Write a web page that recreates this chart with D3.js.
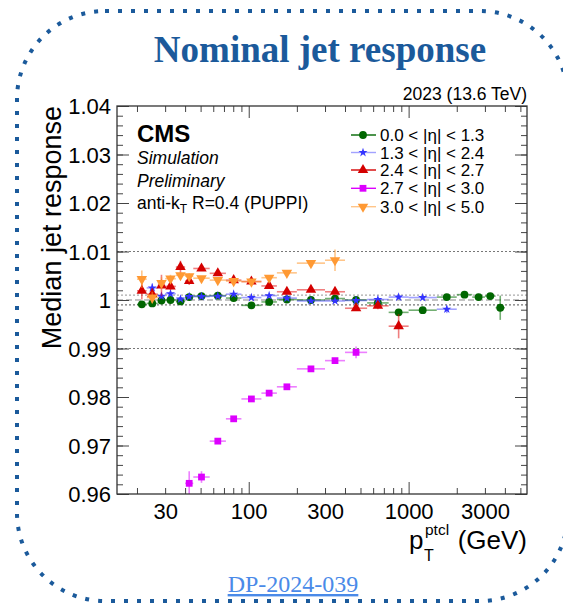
<!DOCTYPE html>
<html>
<head>
<meta charset="utf-8">
<script src="https://cdn.jsdelivr.net/npm/d3@7"></script>
<style>
  html, body { margin: 0; padding: 0; background: #fff; }
  svg { display: block; }
  text { font-family: "Liberation Sans", Arial, Helvetica, sans-serif; }
</style>
</head>
<body>
<svg id="chart" width="563" height="603"></svg>
<script>
// pT bin edges (GeV), shared by all eta regions
const ptEdges = [20, 23, 27, 30, 35, 40, 45, 57, 72, 90, 120, 150, 200, 300, 400, 550, 750, 1000, 1500, 2000, 2500, 3000, 3500, 4000];

const etaLabels = ["0.0 < |η| < 1.3", "1.3 < |η| < 2.4", "2.4 < |η| < 2.7", "2.7 < |η| < 3.0", "3.0 < |η| < 5.0"];
// index of the first pT bin filled for each eta region
const firstBin = [0, 1, 0, 5, 0];

// median response per pT bin, and its uncertainty
const resp00to13 = [0.9991, 0.9993, 0.9999, 1.0000, 0.9997, 1.0006, 1.0008, 1.0009, 1.0004, 0.9989, 0.9996, 1.0001,
                    1.0000, 1.0003, 1.0000, 0.9994, 0.99745, 0.9979, 1.0006, 1.0011, 1.0006, 1.0008, 0.9984];
const err00to13  = [0.0003, 0.0003, 0.0002, 0.0002, 0.0002, 0.0002, 0.0002, 0.0002, 0.0002, 0.0002, 0.0002, 0.0002,
                    0.0002, 0.0002, 0.0002, 0.0003, 0.0004, 0.0003, 0.0003, 0.0003, 0.0004, 0.0006, 0.0025];

const resp13to24 = [1.0025, 1.0008, 1.0013, 1.0002, 1.0007, 1.0007, 1.0008, 1.0012, 1.0005, 1.0009, 1.0004,
                    0.9998, 0.9998, 0.9999, 1.0001, 1.0006, 1.0005, 0.9981];
const err13to24  = [0.0009, 0.0005, 0.0005, 0.0004, 0.0003, 0.0003, 0.0003, 0.0003, 0.0003, 0.0003, 0.0003,
                    0.0003, 0.0003, 0.0003, 0.0003, 0.0004, 0.0004, 0.0008];

const resp24to27 = [1.0019, 1.0012, 1.0030, 1.0028, 1.0068, 1.0039, 1.0065, 1.0055, 1.0041, 1.0038, 1.0029,
                    1.0017, 1.0021, 1.0017, 0.9983, 0.9988, 0.9946];
const err24to27  = [0.0018, 0.0012, 0.0022, 0.0008, 0.0013, 0.0008, 0.0005, 0.0005, 0.0004, 0.0004, 0.0005,
                    0.0004, 0.0004, 0.0004, 0.0004, 0.0007, 0.0025];

const resp27to30 = [0.9622, 0.9635, 0.9709, 0.9755, 0.9796, 0.9808, 0.9821, 0.9858, 0.9875, 0.9892];
const err27to30  = [0.0025, 0.0012, 0.0005, 0.0005, 0.0003, 0.0003, 0.0003, 0.0003, 0.0005, 0.0012];

const resp30to50 = [1.0043, 1.0005, 1.0035, 1.0044, 1.0051, 1.0049, 1.0045, 1.0041, 1.0039, 1.0038, 1.0046,
                    1.0056, 1.0076, 1.0082];
const err30to50  = [0.0018, 0.0012, 0.0012, 0.0008, 0.0006, 0.0006, 0.0004, 0.0003, 0.0003, 0.0003, 0.0003,
                    0.0004, 0.0006, 0.0022];

const xTickLabels = [30, 100, 300, 1000, 3000];
const yTickLabels = [0.96, 0.97, 0.98, 0.99, 1.00, 1.01, 1.02, 1.03, 1.04];

const markerColors = ["#006600", "#3333ff", "#d40000", "#dd00ff", "#ff9933"];
const barColors    = ["rgba(0,110,0,0.55)", "rgba(70,70,255,0.5)", "rgba(225,0,0,0.5)", "rgba(220,0,255,0.5)", "rgba(255,150,40,0.55)"];
const markerShapes = [d3.symbolCircle, d3.symbolStar, d3.symbolTriangle, d3.symbolSquare, d3.symbolTriangle];
const markerSizes  = [48, 26, 48, 46, 48];
const markerRotate = [0, 0, 0, 0, 180];

const respAll = [resp00to13, resp13to24, resp24to27, resp27to30, resp30to50];
const errAll  = [err00to13, err13to24, err24to27, err27to30, err30to50];

const series = etaLabels.map((label, s) => ({
  label,
  points: respAll[s].map((v, i) => {
    const lo = ptEdges[firstBin[s] + i], hi = ptEdges[firstBin[s] + i + 1];
    return {lo, hi, pt: Math.sqrt(lo * hi), v, e: errAll[s][i]};
  })
}));

const frameL = 117, frameR = 527, frameT = 106, frameB = 494;
const blue = "#1b5a9b";

const svg = d3.select("#chart");

// dotted rounded border
svg.append("rect")
  .attr("x", 17).attr("y", 11)
  .attr("width", 551).attr("height", 590)
  .attr("rx", 88).attr("ry", 88)
  .attr("fill", "none")
  .attr("stroke", blue)
  .attr("stroke-width", 4)
  .attr("stroke-dasharray", "4 9");

svg.append("text")
  .attr("x", 320).attr("y", 62)
  .attr("text-anchor", "middle")
  .style("font-family", "'Liberation Serif', serif")
  .attr("font-weight", "bold")
  .attr("font-size", 37)
  .attr("fill", blue)
  .text("Nominal jet response");

svg.append("text")
  .attr("x", 293).attr("y", 592)
  .attr("text-anchor", "middle")
  .style("font-family", "'Liberation Serif', serif")
  .attr("font-size", 24)
  .attr("fill", "#4a8ae8")
  .attr("text-decoration", "underline")
  .text("DP-2024-039");

const x = d3.scaleLog().domain([15, 5500]).range([frameL, frameR]);
const y = d3.scaleLinear().domain([0.96, 1.04]).range([frameB, frameT]);

// reference lines
const refLines = [
  {v: 1.01, dash: "2 2", color: "#777"},
  {v: 0.99, dash: "2 2", color: "#777"},
  {v: 1.001, dash: "2 2", color: "#aaa"},
  {v: 0.999, dash: "2 2", color: "#777"},
  {v: 1.0, dash: "6 3", color: "#888"}
];
svg.append("g").selectAll("line").data(refLines).join("line")
  .attr("x1", frameL).attr("x2", frameR)
  .attr("y1", d => y(d.v)).attr("y2", d => y(d.v))
  .attr("stroke", d => d.color)
  .attr("stroke-width", 1.2)
  .attr("stroke-dasharray", d => d.dash);

// ticks
const minorX = [20, 30, 40, 50, 60, 70, 80, 90, 200, 300, 400, 500, 600, 700, 800, 900, 2000, 3000, 4000, 5000];
const majorX = [100, 1000];
const majorY = d3.range(0, 9).map(i => 0.96 + i * 0.01);
const minorY = d3.range(0, 41).map(i => 0.96 + i * 0.002);

function tickAxis(axis, transform) {
  const g = svg.append("g").attr("transform", transform).call(axis);
  g.select(".domain").remove();
  g.selectAll("line").attr("stroke", "#444");
  return g;
}
tickAxis(d3.axisBottom(x).tickValues(minorX).tickSize(-6).tickFormat(""), `translate(0,${frameB})`);
tickAxis(d3.axisBottom(x).tickValues(majorX).tickSize(-12).tickFormat(""), `translate(0,${frameB})`);
tickAxis(d3.axisTop(x).tickValues(minorX).tickSize(-6).tickFormat(""), `translate(0,${frameT})`);
tickAxis(d3.axisTop(x).tickValues(majorX).tickSize(-12).tickFormat(""), `translate(0,${frameT})`);
tickAxis(d3.axisLeft(y).tickValues(minorY).tickSize(-6).tickFormat(""), `translate(${frameL},0)`);
tickAxis(d3.axisLeft(y).tickValues(majorY).tickSize(-12).tickFormat(""), `translate(${frameL},0)`);
tickAxis(d3.axisRight(y).tickValues(minorY).tickSize(-6).tickFormat(""), `translate(${frameR},0)`);
tickAxis(d3.axisRight(y).tickValues(majorY).tickSize(-12).tickFormat(""), `translate(${frameR},0)`);

// tick labels
const xl = svg.append("g").attr("transform", `translate(0,${frameB})`)
  .call(d3.axisBottom(x).tickValues(xTickLabels).tickSize(0).tickFormat(d3.format("d")));
xl.select(".domain").remove();
xl.selectAll("text").attr("font-size", 22).attr("y", 25).attr("dy", 0)
  .style("font-family", "'Liberation Sans', Arial, sans-serif").attr("fill", "#000");

const yl = svg.append("g").attr("transform", `translate(${frameL},0)`)
  .call(d3.axisLeft(y).tickValues(yTickLabels).tickSize(0).tickPadding(6)
    .tickFormat(d => Math.abs(d - 1) < 1e-9 ? "1" : d3.format(".2f")(d)));
yl.select(".domain").remove();
yl.selectAll("text").attr("font-size", 22).attr("dy", "0.36em")
  .style("font-family", "'Liberation Sans', Arial, sans-serif").attr("fill", "#000");

// axis titles
svg.append("text")
  .attr("transform", `translate(61,${frameT}) rotate(-90)`)
  .attr("text-anchor", "end")
  .attr("font-size", 27)
  .text("Median jet response");

const xt = svg.append("g");
xt.append("text").attr("x", 409).attr("y", 549).attr("font-size", 26).text("p");
xt.append("text").attr("x", 425).attr("y", 535).attr("font-size", 15.5).text("ptcl");
xt.append("text").attr("x", 424).attr("y", 561).attr("font-size", 16).text("T");
xt.append("text").attr("x", frameR).attr("y", 549).attr("text-anchor", "end").attr("font-size", 26).text("(GeV)");

// energy label
svg.append("text")
  .attr("x", frameR).attr("y", 100)
  .attr("text-anchor", "end")
  .attr("font-size", 17.5)
  .text("2023 (13.6 TeV)");

// data
svg.append("clipPath").attr("id", "frameClip")
  .append("rect").attr("x", frameL).attr("y", frameT).attr("width", frameR - frameL).attr("height", frameB - frameT);

const plot = svg.append("g").attr("clip-path", "url(#frameClip)");

series.forEach((s, k) => {
  const g = plot.append("g");
  g.selectAll("line.h").data(s.points).join("line").attr("class", "h")
    .attr("x1", d => x(d.lo)).attr("x2", d => x(d.hi))
    .attr("y1", d => y(d.v)).attr("y2", d => y(d.v))
    .attr("stroke", barColors[k]).attr("stroke-width", 1.6);
  g.selectAll("line.v").data(s.points).join("line").attr("class", "v")
    .attr("x1", d => x(d.pt)).attr("x2", d => x(d.pt))
    .attr("y1", d => y(d.v - d.e)).attr("y2", d => y(d.v + d.e))
    .attr("stroke", barColors[k]).attr("stroke-width", 1.6);
  g.selectAll("path").data(s.points).join("path")
    .attr("d", d3.symbol().type(markerShapes[k]).size(markerSizes[k]))
    .attr("transform", d => `translate(${x(d.pt)},${y(d.v)}) rotate(${markerRotate[k]})`)
    .attr("fill", markerColors[k]);
});

// frame
svg.append("rect")
  .attr("x", frameL).attr("y", frameT)
  .attr("width", frameR - frameL).attr("height", frameB - frameT)
  .attr("fill", "none").attr("stroke", "#333").attr("stroke-width", 1.3);

// CMS label block
svg.append("text").attr("x", 137).attr("y", 142)
  .attr("font-size", 24).attr("font-weight", "bold").text("CMS");
svg.append("text").attr("x", 137).attr("y", 164)
  .attr("font-size", 17.5).attr("font-style", "italic").text("Simulation");
svg.append("text").attr("x", 137).attr("y", 187)
  .attr("font-size", 17.5).attr("font-style", "italic").text("Preliminary");
const ak = svg.append("text").attr("x", 137).attr("y", 209).attr("font-size", 17.5);
ak.append("tspan").text("anti-k");
ak.append("tspan").attr("font-size", 12).attr("dy", 4).text("T");
ak.append("tspan").attr("dy", -4).text(" R=0.4 (PUPPI)");

// legend
const legendY = [135, 152.5, 170, 188.3, 206.7];
const leg = svg.append("g");
etaLabels.forEach((label, k) => {
  const ly = legendY[k];
  leg.append("line").attr("x1", 351).attr("x2", 376).attr("y1", ly).attr("y2", ly)
    .attr("stroke", k === 0 || k === 2 || k === 3 ? markerColors[k] : barColors[k]).attr("stroke-width", 1.4);
  leg.append("path")
    .attr("d", d3.symbol().type(markerShapes[k]).size(markerSizes[k]))
    .attr("transform", `translate(363,${ly}) rotate(${markerRotate[k]})`)
    .attr("fill", markerColors[k]);
  leg.append("text").attr("x", 380).attr("y", ly + 6).attr("font-size", 17).text(label);
});
</script>
</body>
